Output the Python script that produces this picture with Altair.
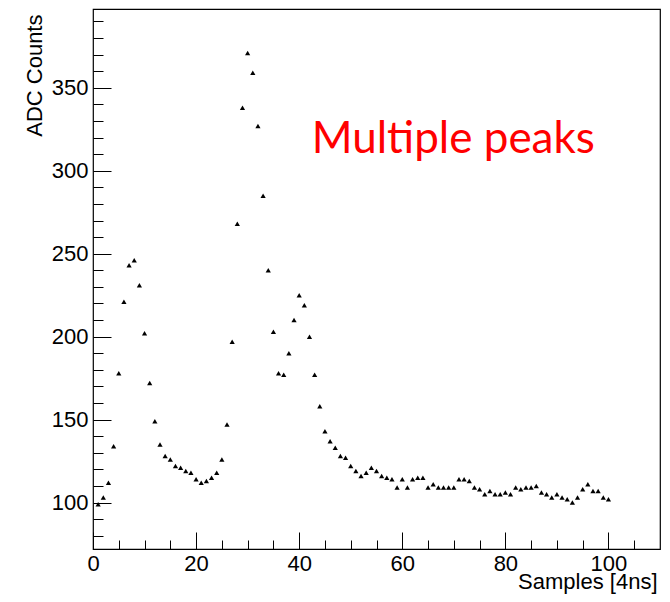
import altair as alt
import pandas as pd

samples = list(range(1, 101))
adc_counts = [99, 103, 112, 134, 178, 221, 243, 246, 231, 202,
              172, 149, 135, 128, 126, 122, 121, 119, 118, 114,
              112, 113, 115, 118, 126, 147, 197, 268, 338, 371,
              359, 327, 285, 240, 203, 178, 177, 190, 210, 225,
              219, 200, 177, 158, 143, 137, 133, 128, 127, 122,
              119, 116, 118, 121, 119, 116, 115, 114, 109, 114,
              109, 114, 115, 115, 109, 111, 109, 109, 109, 109,
              114, 114, 113, 109, 108, 105, 107, 105, 105, 106,
              105, 109, 108, 109, 109, 110, 106, 105, 103, 105,
              103, 102, 100, 103, 108, 111, 107, 107, 103, 102]

x_major = [0, 20, 40, 60, 80, 100]
x_minor = [5, 10, 15, 25, 30, 35, 45, 50, 55, 65, 70, 75, 85, 90, 95, 105]
y_major = [100, 150, 200, 250, 300, 350]
y_minor = [80, 90, 110, 120, 130, 140, 160, 170, 180, 190, 210, 220, 230, 240,
           260, 270, 280, 290, 310, 320, 330, 340, 360, 370, 380, 390]
annotation = "Multiple peaks"

df = pd.DataFrame({"sample": samples, "adc": adc_counts})

W, H = 567, 540
FONT = "Liberation Sans"
x_scale = alt.Scale(domain=[0, 110], nice=False, zero=False)
y_scale = alt.Scale(domain=[72, 397.5], nice=False, zero=False)

base = alt.Chart(df)

points = base.mark_point(filled=True, shape="triangle-up", size=27,
                         color="black", opacity=1).encode(
    x=alt.X("sample:Q", scale=x_scale,
            axis=alt.Axis(orient="bottom", values=x_major, ticks=False, domain=False,
                          grid=False, labelFont=FONT, labelFontSize=22, labelColor="black",
                          labelPadding=4, labelFlush=False,
                          title="Samples [4ns]", titleFont=FONT, titleFontSize=22,
                          titleFontWeight="normal", titleColor="black",
                          titleX=564, titleY=39, titleAlign="right",
                          titleBaseline="alphabetic")),
    y=alt.Y("adc:Q", scale=y_scale,
            axis=alt.Axis(orient="left", values=y_major, ticks=False, domain=False,
                          grid=False, labelFont=FONT, labelFontSize=22, labelColor="black",
                          labelPadding=5, labelFlush=False,
                          title="ADC Counts", titleFont=FONT, titleFontSize=22,
                          titleFontWeight="normal", titleColor="black",
                          titleAngle=270, titleX=-52, titleY=5, titleAlign="right",
                          titleBaseline="alphabetic")),
)

def tick_layer(xv, yv, xs, ys):
    return base.mark_point(opacity=0).encode(
        x=alt.X("sample:Q", scale=x_scale,
                axis=alt.Axis(orient="top", offset=-H, values=xv, ticks=True,
                              tickSize=xs, tickColor="black", tickWidth=1,
                              labels=False, domain=False, grid=False, title=None)),
        y=alt.Y("adc:Q", scale=y_scale,
                axis=alt.Axis(orient="right", offset=-W, values=yv, ticks=True,
                              tickSize=ys, tickColor="black", tickWidth=1,
                              labels=False, domain=False, grid=False, title=None)),
    )

major = tick_layer(x_major, y_major, 17, 18)
minor = tick_layer(x_minor, y_minor, 9, 10)

label = alt.Chart(pd.DataFrame({"t": [annotation]})).mark_text(
    font="Lato", fontSize=44, color="#ff0000", align="left", baseline="alphabetic"
).encode(x=alt.value(218.7), y=alt.value(144.3), text="t:N")

chart = alt.layer(points, major, minor, label).resolve_axis(
    x="independent", y="independent"
).properties(
    width=W, height=H,
    autosize=alt.AutoSizeParams(type="none"),
    padding={"left": 85, "top": 1, "right": 2, "bottom": 45},
    background="white",
).configure_view(stroke="black", strokeWidth=1.2)

chart.save("out.html", embed_options={"renderer": "svg", "actions": False})
